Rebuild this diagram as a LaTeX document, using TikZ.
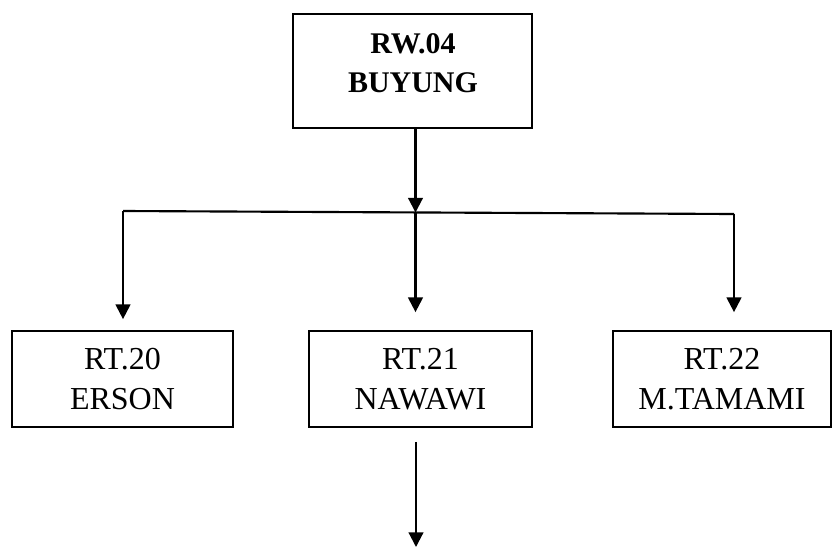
\documentclass[tikz,border=0pt]{standalone}
\usepackage{fontspec}
\setmainfont{Liberation Serif}
\usetikzlibrary{arrows.meta}
\begin{document}
\begin{tikzpicture}[x=0.75pt,y=-0.75pt,
  box/.style={draw, line width=1.3pt, inner sep=0pt, align=center,
    font=\fontsize{24}{29.5}\selectfont},
  lbl/.style={align=center, inner sep=0pt, font=\fontsize{22.5}{29.5}\selectfont\bfseries},
  conn/.style={line width=1.6pt},
  arr/.style={conn, -{Triangle[length=11pt,width=11pt]}}]
\useasboundingbox (0,0) rectangle (832,547);
% boxes
\node[box, minimum width=179.25pt, minimum height=85.5pt] (rw) at (412.5,71) {};
\node[lbl] (rwtext) at (413,63) {RW.04\\BUYUNG};
\node[box, minimum width=165.75pt, minimum height=72pt] (rt20) at (122.5,379) {RT.20\\ERSON};
\node[box, minimum width=167.25pt, minimum height=72pt] (rt21) at (420.5,379) {RT.21\\NAWAWI};
\node[box, minimum width=163.5pt, minimum height=72pt] (rt22) at (722,379) {RT.22\\M.TAMAMI};
% junctions
\coordinate (j) at (415.5,212.5);
\coordinate (jl) at (123,211);
\coordinate (jr) at (734,214);
\coordinate (end) at (416,547);
% connectors
\draw[conn] (jl) -- (jr);
\draw[arr] (rw.south -| j) -- (j);
\draw[arr, shorten >=13.5pt] (j) -- (j |- rt21.north);
\draw[arr, shorten >=8.25pt] (jl) -- (jl |- rt20.north);
\draw[arr, shorten >=13.5pt] (jr) -- (jr |- rt22.north);
\draw[arr, shorten <=10.5pt] (rt21.south -| end) -- (end);
\end{tikzpicture}
\end{document}
